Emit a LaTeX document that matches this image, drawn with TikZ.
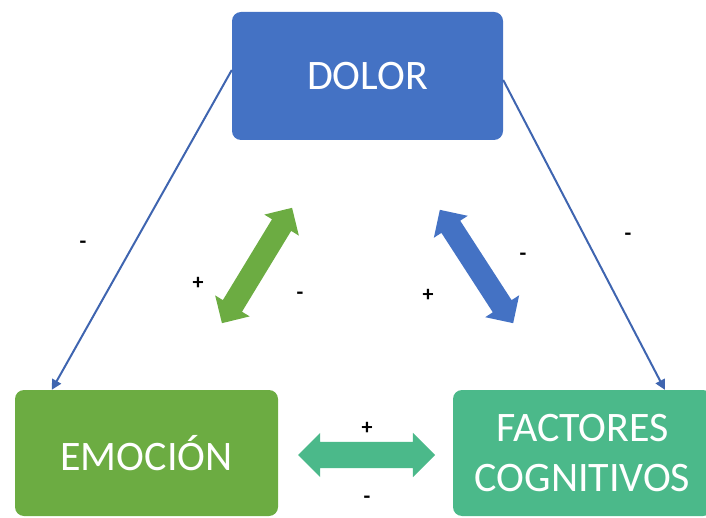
\documentclass[tikz,border=0pt]{standalone}
\usepackage{fontspec}
\setmainfont{Carlito}
\usetikzlibrary{shapes.arrows,arrows.meta}
\definecolor{cblue}{HTML}{4472C4}
\definecolor{clineblue}{HTML}{3F65B0}
\definecolor{cgreen}{HTML}{6CAC42}
\definecolor{cteal}{HTML}{4BB98A}
\begin{document}
\begin{tikzpicture}[x=1pt,y=-1pt,
  box/.style={rounded corners=9pt, text=white, font=\fontsize{42}{50}\selectfont, align=center, inner sep=0pt},
  conn/.style={draw=clineblue, line width=2pt, -{Triangle[length=10pt,width=10pt]}},
  fat/.style={double arrow, inner xsep=0pt, inner ysep=11pt, double arrow head extend=9pt, minimum height=135pt, draw=none},
  sign/.style={font=\fontsize{22}{22}\selectfont\bfseries, inner sep=0pt}]
\useasboundingbox (0,0) rectangle (706,518);
\clip (0,0) rectangle (706,518);
\node[box, fill=cblue, minimum width=271pt, minimum height=128pt] (dolor) at (367.5,76) {DOLOR};
\node[box, fill=cgreen, minimum width=263pt, minimum height=126pt] (emo) at (146.5,453) {EMOCIÓN};
\node[box, fill=cteal, minimum width=259pt, minimum height=126pt] (fac) at (582.5,453) {FACTORES\\COGNITIVOS};
\draw[conn] ([yshift=6pt]dolor.west) -- ([xshift=37pt]emo.north west);
\draw[conn] ([yshift=-4pt]dolor.east) -- ([xshift=212pt]fac.north west);
\node[fat, fill=cgreen, rotate=58.7] (ga) at (257,265.5) {};
\node[fat, fill=cblue, rotate=-57.1] (ba) at (476.5,266.5) {};
\node[fat, fill=cteal, minimum height=137pt, inner ysep=13pt] (ta) at (366.5,455) {};
\node[sign] (m1) at (83,245) {-};
\node[sign] (m2) at (628,237) {-};
\node[sign] (m3) at (300,296) {-};
\node[sign] (m4) at (523,257) {-};
\node[sign] (m5) at (367,500) {-};
\node[sign] (p1) at (198,283) {+};
\node[sign] (p2) at (428,295) {+};
\node[sign] (p3) at (367,428) {+};
\end{tikzpicture}
\end{document}
